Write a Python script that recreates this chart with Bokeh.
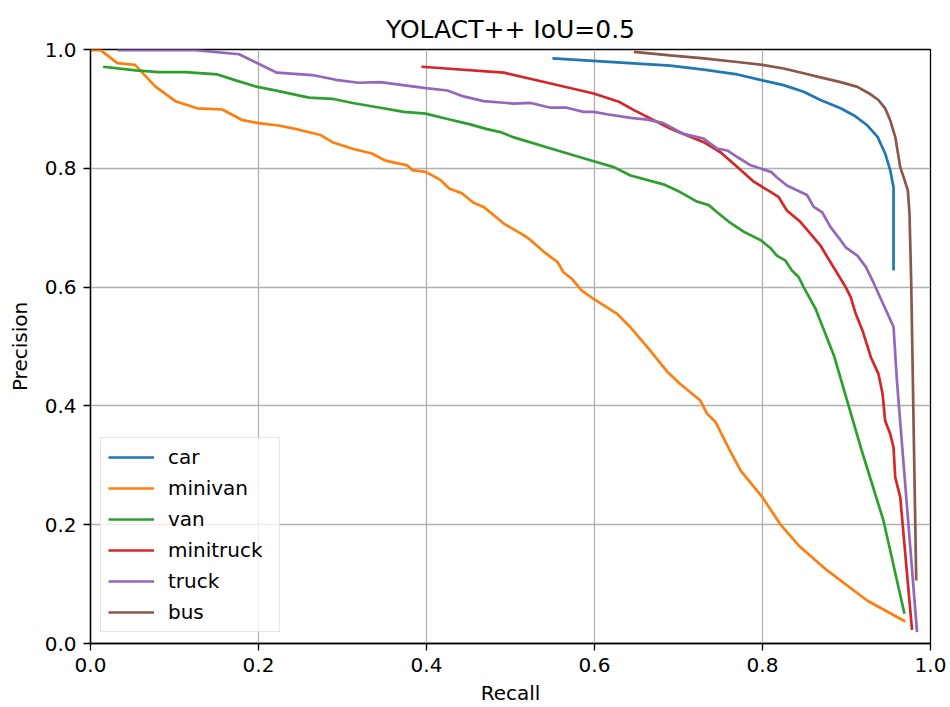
from bokeh.plotting import figure
from bokeh.models import Range1d, FixedTicker, Legend, LegendItem
from bokeh.embed import file_html
from bokeh.resources import INLINE

classes = ["car", "minivan", "van", "minitruck", "truck", "bus"]
colors = ["#1f77b4", "#ff7f0e", "#2ca02c", "#d62728", "#9467bd", "#8c564b"]

car_r = [0.55, 0.69, 0.73, 0.77, 0.80, 0.825, 0.849, 0.869, 0.893, 0.909, 0.925, 0.937, 0.946, 0.952, 0.956, 0.956]
car_p = [0.985, 0.973, 0.966, 0.958, 0.948, 0.940, 0.929, 0.915, 0.901, 0.889, 0.872, 0.853, 0.825, 0.797, 0.768, 0.628]

minivan_r = [0.0, 0.012, 0.032, 0.053, 0.077, 0.101, 0.127, 0.157, 0.181, 0.200,
             0.224, 0.248, 0.274, 0.288, 0.312, 0.335, 0.351, 0.377, 0.383, 0.399,
             0.417, 0.427, 0.442, 0.456, 0.468, 0.492, 0.516, 0.524, 0.540, 0.556,
             0.563, 0.573, 0.585, 0.599, 0.627, 0.641, 0.663, 0.687, 0.702, 0.726,
             0.734, 0.744, 0.760, 0.774, 0.800, 0.821, 0.843, 0.877, 0.925, 0.970]
minivan_p = [0.999, 0.999, 0.977, 0.974, 0.938, 0.913, 0.901, 0.899, 0.881, 0.876,
             0.872, 0.865, 0.856, 0.844, 0.833, 0.825, 0.813, 0.805, 0.797, 0.794,
             0.780, 0.766, 0.758, 0.742, 0.735, 0.707, 0.687, 0.679, 0.659, 0.642,
             0.625, 0.614, 0.594, 0.580, 0.555, 0.535, 0.499, 0.457, 0.437, 0.409,
             0.387, 0.373, 0.328, 0.291, 0.246, 0.201, 0.165, 0.123, 0.072, 0.037]

van_r = [0.015, 0.054, 0.081, 0.113, 0.151, 0.173, 0.196, 0.224, 0.260, 0.288,
         0.312, 0.345, 0.373, 0.399, 0.425, 0.452, 0.472, 0.488, 0.504, 0.544,
         0.575, 0.599, 0.623, 0.643, 0.682, 0.702, 0.722, 0.736, 0.746, 0.760,
         0.778, 0.798, 0.810, 0.817, 0.827, 0.835, 0.843, 0.849, 0.863, 0.885,
         0.917, 0.944, 0.969]
van_p = [0.971, 0.965, 0.962, 0.962, 0.958, 0.948, 0.938, 0.930, 0.919, 0.917,
         0.910, 0.902, 0.895, 0.892, 0.883, 0.874, 0.866, 0.861, 0.852, 0.835,
         0.822, 0.812, 0.802, 0.788, 0.773, 0.760, 0.744, 0.738, 0.726, 0.710,
         0.693, 0.679, 0.665, 0.653, 0.645, 0.628, 0.617, 0.600, 0.564, 0.485,
         0.330, 0.207, 0.050]

minitruck_r = [0.394, 0.492, 0.544, 0.599, 0.629, 0.647, 0.69, 0.714, 0.730, 0.75,
               0.770, 0.790, 0.810, 0.819, 0.829, 0.845, 0.857, 0.869, 0.877, 0.887,
               0.899, 0.905, 0.911, 0.919, 0.929, 0.938, 0.943, 0.946, 0.952, 0.956,
               0.958, 0.964, 0.978]
minitruck_p = [0.971, 0.961, 0.944, 0.926, 0.912, 0.898, 0.867, 0.853, 0.844, 0.827,
               0.802, 0.777, 0.760, 0.752, 0.729, 0.710, 0.690, 0.670, 0.651, 0.628,
               0.600, 0.583, 0.555, 0.527, 0.482, 0.454, 0.420, 0.375, 0.353, 0.330,
               0.280, 0.246, 0.023]

truck_r = [0.032, 0.125, 0.177, 0.200, 0.222, 0.264, 0.292, 0.319, 0.345, 0.399,
           0.425, 0.444, 0.468, 0.504, 0.524, 0.548, 0.567, 0.587, 0.599, 0.615,
           0.643, 0.663, 0.682, 0.706, 0.730, 0.746, 0.758, 0.770, 0.786, 0.810,
           0.817, 0.829, 0.853, 0.861, 0.871, 0.881, 0.893, 0.899, 0.913, 0.923,
           0.931, 0.940, 0.956, 0.960, 0.984]
truck_p = [0.999, 0.999, 0.992, 0.976, 0.961, 0.957, 0.949, 0.944, 0.945, 0.935,
           0.931, 0.921, 0.913, 0.909, 0.910, 0.902, 0.902, 0.895, 0.895, 0.891,
           0.885, 0.882, 0.876, 0.858, 0.850, 0.833, 0.830, 0.819, 0.805, 0.794,
           0.785, 0.771, 0.755, 0.735, 0.726, 0.701, 0.679, 0.667, 0.653, 0.634,
           0.611, 0.583, 0.533, 0.443, 0.019]

bus_r = [0.647, 0.69, 0.73, 0.77, 0.80, 0.825, 0.849, 0.869, 0.893, 0.913,
         0.927, 0.938, 0.946, 0.952, 0.958, 0.964, 0.968, 0.973, 0.975, 0.977, 0.983]
bus_p = [0.996, 0.990, 0.985, 0.979, 0.974, 0.968, 0.960, 0.953, 0.945, 0.937,
         0.926, 0.915, 0.901, 0.881, 0.853, 0.802, 0.785, 0.763, 0.724, 0.611, 0.106]

ticks = [0.0, 0.2, 0.4, 0.6, 0.8, 1.0]
tick_labels = ["0.0", "0.2", "0.4", "0.6", "0.8", "1.0"]

series = [(car_r, car_p), (minivan_r, minivan_p), (van_r, van_p),
          (minitruck_r, minitruck_p), (truck_r, truck_p), (bus_r, bus_p)]

FONT = "DejaVu Sans"

p = figure(frame_width=840, frame_height=594, output_backend="svg", toolbar_location=None,
           x_range=Range1d(0, 1), y_range=Range1d(0, 1),
           min_border_left=90, min_border_right=20, min_border_top=49, min_border_bottom=64,
           title="YOLACT++ IoU=0.5")
p.background_fill_color = "white"
p.border_fill_color = "white"
p.outline_line_color = "black"
p.outline_line_width = 1.3
p.outline_line_alpha = 1.0

p.title.align = "center"
p.title.text_font = FONT
p.title.text_font_size = "25px"
p.title.text_font_style = "normal"
p.title.text_color = "black"
p.title.standoff = 11

for ax, lab in ((p.xaxis, "Recall"), (p.yaxis, "Precision")):
    ax.ticker = FixedTicker(ticks=ticks)
    ax.major_label_overrides = {t: l for t, l in zip(ticks, tick_labels)}
    ax.axis_label = lab
    ax.axis_label_text_font = FONT
    ax.axis_label_text_font_size = "20px"
    ax.axis_label_text_font_style = "normal"
    ax.axis_label_text_color = "black"
    ax.major_label_text_font = FONT
    ax.major_label_text_font_size = "20px"
    ax.major_label_text_color = "black"
    ax.major_label_standoff = 7
    ax.major_tick_out = 7
    ax.major_tick_in = 0
    ax.major_tick_line_width = 1.3
    ax.axis_line_width = 1.3
    ax.minor_tick_line_color = None
    ax.axis_line_color = "black"
    ax.major_tick_line_color = "black"

p.xaxis.axis_label_standoff = 6
p.yaxis.axis_label_standoff = 10

p.grid.grid_line_color = "#b0b0b0"
p.grid.grid_line_width = 1.3
p.xgrid.ticker = FixedTicker(ticks=ticks)
p.ygrid.ticker = FixedTicker(ticks=ticks)

items = []
for name, col, (r, pr) in zip(classes, colors, series):
    rend = p.line(r, pr, line_color=col, line_width=2.7)
    items.append(LegendItem(label=name, renderers=[rend]))

legend = Legend(items=items, location=(10, 11))
legend.label_text_font = FONT
legend.label_text_font_size = "20px"
legend.label_text_color = "black"
legend.glyph_width = 46
legend.glyph_height = 20
legend.label_height = 20
legend.label_width = 104
legend.spacing = 7
legend.padding = 7
legend.margin = 0
legend.label_standoff = 14
legend.border_line_color = "#cccccc"
legend.border_line_width = 1.3
legend.background_fill_color = "white"
legend.background_fill_alpha = 0.8
p.add_layout(legend, "center")

open("out.html", "w").write(file_html(p, INLINE))
